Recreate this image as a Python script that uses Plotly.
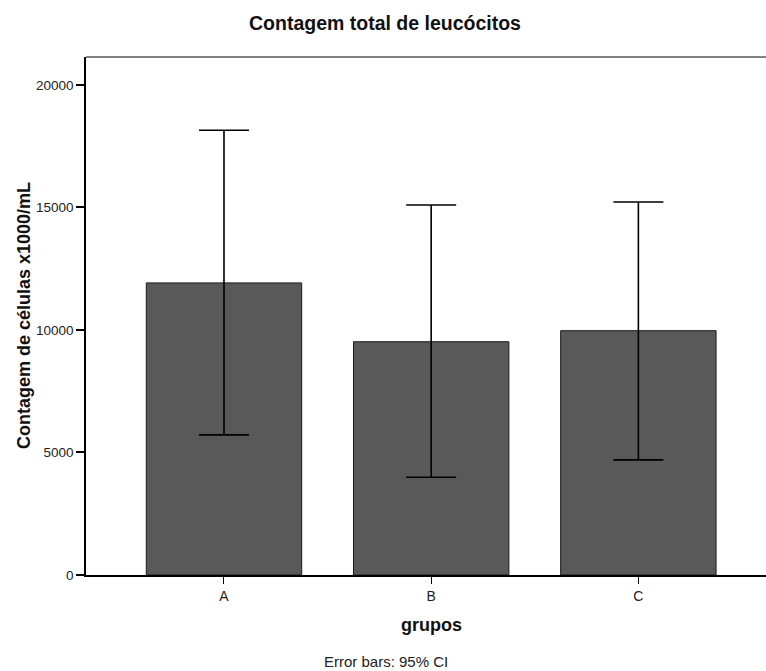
import plotly.graph_objects as go

# Group means and 95% CI bounds (cells x1000/mL)
groups = ["A", "B", "C"]
means = [11920, 9520, 9970]
ci_upper = [18150, 15100, 15220]
ci_lower = [5720, 3990, 4700]
y_ticks = [0, 5000, 10000, 15000, 20000]

err_plus = [u - m for u, m in zip(ci_upper, means)]
err_minus = [m - l for m, l in zip(means, ci_lower)]

FONT = "Liberation Sans, Arial, sans-serif"

fig = go.Figure(
    go.Bar(
        x=list(range(len(groups))),
        y=means,
        width=0.75,
        marker=dict(color="#595959", line=dict(color="#1a1a1a", width=1)),
        error_y=dict(
            type="data",
            symmetric=False,
            array=err_plus,
            arrayminus=err_minus,
            color="#000000",
            thickness=1.6,
            width=25,
        ),
    )
)

fig.update_layout(
    width=766,
    height=671,
    margin=dict(l=86, r=0, t=57, b=96),
    plot_bgcolor="white",
    paper_bgcolor="white",
    showlegend=False,
    font=dict(family=FONT, color="#222222"),
)

fig.update_xaxes(
    range=[-0.666, 2.616],
    tickmode="array",
    tickvals=list(range(len(groups))),
    ticktext=groups,
    ticks="outside",
    ticklen=7,
    tickcolor="#000",
    tickfont=dict(size=14, color="#222"),
    showline=True,
    linecolor="#000",
    linewidth=1.5,
    showgrid=False,
    zeroline=False,
)

fig.update_yaxes(
    range=[0, 21140],
    tickmode="array",
    tickvals=y_ticks,
    ticktext=[str(v) for v in y_ticks],
    ticks="outside",
    ticklen=8,
    tickwidth=1.5,
    tickcolor="#000",
    tickfont=dict(size=13.5, color="#222"),
    showline=True,
    linecolor="#000",
    linewidth=1.5,
    showgrid=False,
    zeroline=False,
)

# grey frame line along the top of the plot area
fig.add_shape(
    type="line", xref="paper", yref="paper",
    x0=0, x1=1, y0=1, y1=1,
    line=dict(color="#808080", width=2),
)

# chart title
fig.add_annotation(
    text="<b>Contagem total de leucócitos</b>",
    xref="paper", yref="paper", x=(385 - 86) / 680, y=1,
    yshift=34, showarrow=False, xanchor="center", yanchor="middle",
    font=dict(size=19.5, color="#111"),
)

# y-axis title
fig.add_annotation(
    text="<b>Contagem de células x1000/mL</b>",
    xref="paper", yref="paper", x=0, y=0.5,
    xshift=-62, showarrow=False, xanchor="center", yanchor="middle",
    textangle=-90,
    font=dict(size=18, color="#111"),
)

# x-axis title
fig.add_annotation(
    text="<b>grupos</b>",
    xref="paper", yref="paper", x=(431 - 86) / 680, y=0,
    yshift=-50, showarrow=False, xanchor="center", yanchor="middle",
    font=dict(size=18, color="#111"),
)

fig.add_annotation(
    text="Error bars: 95% CI",
    xref="paper", yref="paper", x=(386 - 86) / 680, y=0,
    yshift=-86, showarrow=False, xanchor="center", yanchor="middle",
    font=dict(size=15, color="#222"),
)

fig.write_html("out.html")
